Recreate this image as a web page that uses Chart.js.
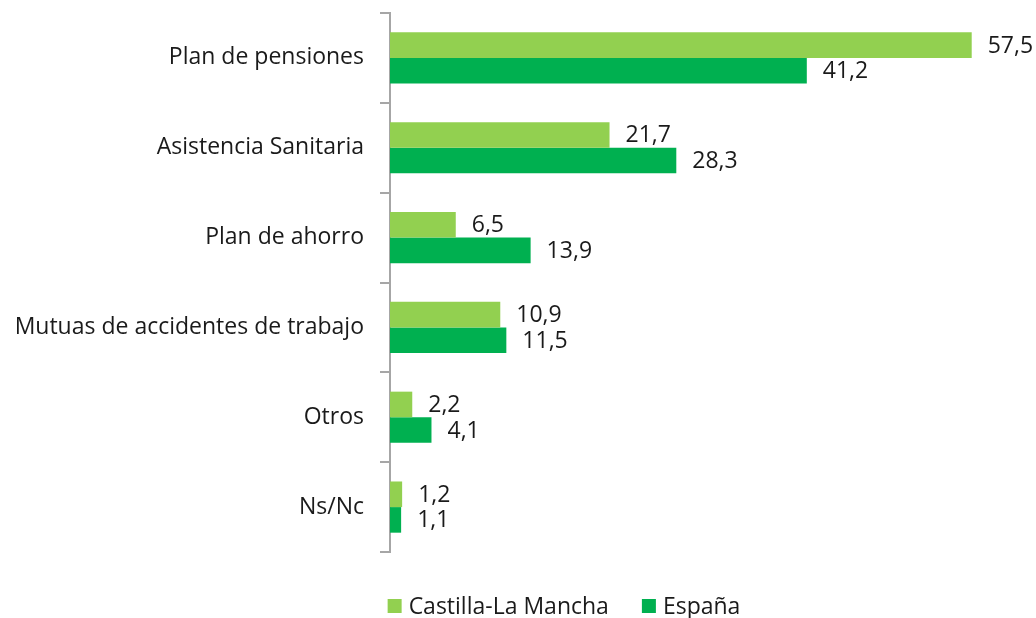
<!DOCTYPE html>
<html>
<head>
<meta charset="utf-8">
<script src="https://cdn.jsdelivr.net/npm/chart.js@4/dist/chart.umd.min.js"></script>
<style>
  html, body { margin: 0; padding: 0; background: #fff; }
  #wrap { width: 1036px; height: 618px; position: relative; }
</style>
</head>
<body>
<div id="wrap"><canvas id="chart"></canvas></div>
<script>
const categories = [
  'Plan de pensiones',
  'Asistencia Sanitaria',
  'Plan de ahorro',
  'Mutuas de accidentes de trabajo',
  'Otros',
  'Ns/Nc',
];
const castillaLaMancha = [57.5, 21.7, 6.5, 10.9, 2.2, 1.2];
const espana = [41.2, 28.3, 13.9, 11.5, 4.1, 1.1];
const seriesNames = ['Castilla-La Mancha', 'España'];

const FONT = "'Open Sans', 'Noto Sans', sans-serif";
const TEXT = '#1a1a1a';

// value labels to the right of each bar, with comma decimals
const valueLabels = {
  id: 'valueLabels',
  afterDatasetsDraw(chart) {
    const { ctx } = chart;
    ctx.save();
    ctx.font = '23px ' + FONT;
    ctx.fillStyle = TEXT;
    ctx.textAlign = 'left';
    ctx.textBaseline = 'middle';
    chart.data.datasets.forEach((ds, i) => {
      chart.getDatasetMeta(i).data.forEach((bar, j) => {
        const txt = ds.data[j].toFixed(1).replace('.', ',');
        ctx.fillText(txt, bar.x + 16, bar.y + 1);
      });
    });
    ctx.restore();
  },
};

// legend drawn like the Excel one: small squares, wide gap between entries
const bottomLegend = {
  id: 'bottomLegend',
  afterDraw(chart) {
    const { ctx } = chart;
    const box = 14;
    const boxGap = 7;
    const itemGap = 33;
    const y = 606;
    ctx.save();
    ctx.font = '23px ' + FONT;
    ctx.textBaseline = 'middle';
    ctx.textAlign = 'left';
    const items = chart.data.datasets.map((ds) => ({
      text: ds.label,
      color: ds.backgroundColor,
      w: box + boxGap + ctx.measureText(ds.label).width,
    }));
    const total = items.reduce((s, it) => s + it.w, 0) + itemGap * (items.length - 1);
    let x = 564 - total / 2;
    items.forEach((it) => {
      ctx.fillStyle = it.color;
      ctx.fillRect(x, y - box / 2, box, box);
      ctx.fillStyle = TEXT;
      ctx.fillText(it.text, x + box + boxGap, y + 1);
      x += it.w + itemGap;
    });
    ctx.restore();
  },
};

const ctx = document.getElementById('chart').getContext('2d');
new Chart(ctx, {
  type: 'bar',
  data: {
    labels: categories,
    datasets: [
      {
        label: seriesNames[0],
        data: castillaLaMancha,
        backgroundColor: '#92D050',
        categoryPercentage: 0.57,
        barPercentage: 1,
      },
      {
        label: seriesNames[1],
        data: espana,
        backgroundColor: '#00B050',
        categoryPercentage: 0.57,
        barPercentage: 1,
      },
    ],
  },
  options: {
    indexAxis: 'y',
    responsive: true,
    maintainAspectRatio: false,
    animation: false,
    layout: {
      padding: { top: 13, right: 39, left: 0, bottom: 66 },
    },
    scales: {
      x: {
        display: false,
        min: 0,
        max: 60,
      },
      y: {
        afterFit(scale) {
          scale.width = 390;
          scale.paddingTop = 0;
          scale.paddingBottom = 0;
        },
        border: { display: true, color: '#A6A6A6', width: 2 },
        grid: {
          offset: true,
          drawOnChartArea: false,
          drawTicks: true,
          tickLength: 10,
          color: '#A6A6A6',
          lineWidth: 2,
        },
        ticks: {
          color: TEXT,
          font: { family: FONT, size: 23 },
          padding: 16,
        },
      },
    },
    plugins: {
      legend: { display: false },
      tooltip: { enabled: false },
    },
  },
  plugins: [valueLabels, bottomLegend],
});
</script>
</body>
</html>
